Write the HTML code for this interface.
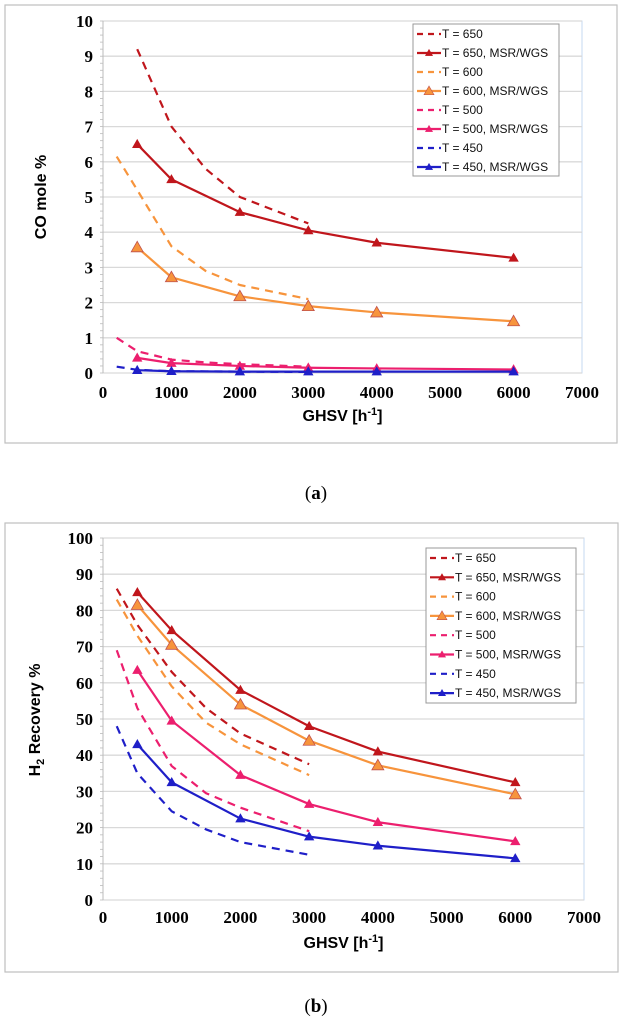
<!DOCTYPE html>
<html><head><meta charset="utf-8"><style>
html,body{margin:0;padding:0;background:#fff;}
svg{display:block;}
</style></head><body>
<svg id="fig" width="624" height="1024" viewBox="0 0 624 1024" xmlns="http://www.w3.org/2000/svg">
<rect x="5" y="5" width="612" height="438" fill="#fff" stroke="#bfbfbf" stroke-width="1.2"/>
<rect x="5" y="523" width="613" height="449" fill="#fff" stroke="#bfbfbf" stroke-width="1.2"/>
<text x="316" y="499" text-anchor="middle" font-family="Liberation Serif, serif" font-size="19">(<tspan font-weight="bold">a</tspan>)</text>
<text x="316" y="1012" text-anchor="middle" font-family="Liberation Serif, serif" font-size="19">(<tspan font-weight="bold">b</tspan>)</text>
</svg>
<script>
// ---- Chart A data (CO mole %) ----
const xTicks = [0,1000,2000,3000,4000,5000,6000,7000];
const aYTicks = [0,1,2,3,4,5,6,7,8,9,10];
const seriesNames = ["T = 650","T = 650,  MSR/WGS","T = 600","T = 600, MSR/WGS","T = 500","T = 500, MSR/WGS","T = 450","T = 450, MSR/WGS"];
const dashX = [200,500,1000,1500,2000,3000];
const solidX = [500,1000,2000,3000,4000,6000];
const aT650dash = [null,9.2,7.0,5.8,5.0,4.25];
const aT650 = [6.5,5.5,4.57,4.05,3.7,3.27];
const aT600dash = [6.15,5.2,3.6,2.9,2.5,2.1];
const aT600 = [3.57,2.72,2.18,1.9,1.72,1.47];
const aT500dash = [1.0,0.62,0.38,0.3,0.25,0.18];
const aT500 = [0.43,0.28,0.2,0.15,0.13,0.1];
const aT450dash = [0.18,0.09,0.05,0.045,0.04,0.03];
const aT450 = [0.08,0.05,0.04,0.04,0.04,0.04];
// ---- Chart B data (H2 recovery %) ----
const bYTicks = [0,10,20,30,40,50,60,70,80,90,100];
const bT650dash = [86,76,63,53,46,37.5];
const bT650 = [85,74.5,58,48,41,32.5];
const bT600dash = [83,73,59,49,43,34.5];
const bT600 = [81.5,70.5,54,44,37.2,29.2];
const bT500dash = [69,53,37,29.5,25.5,19];
const bT500 = [63.5,49.5,34.5,26.5,21.5,16.2];
const bT450dash = [48,35,24.5,19.5,16,12.5];
const bT450 = [43,32.5,22.5,17.5,15,11.5];

const colors = ["#c0161c","#f7943c","#ec1f6e","#1f1fc8"];
const NS = "http://www.w3.org/2000/svg";
const svg = document.getElementById('fig');
function mk(tag, attrs, parent){const e=document.createElementNS(NS,tag);for(const k in attrs)e.setAttribute(k,attrs[k]);(parent||svg).appendChild(e);return e;}

function drawChart(cfg){
  const g = mk('g',{});
  
  
  const L=cfg.left,R=cfg.right,T=cfg.top,B=cfg.bottom;
  const ymax=cfg.yTicks[cfg.yTicks.length-1];
  const sx=v=>L+(v/7000)*(R-L);
  const sy=v=>B-(v/ymax)*(B-T);
  const plot = mk('rect',{x:L,y:T,width:R-L,height:B-T,fill:'#fff',stroke:'#c6d9f1','stroke-width':1},g);
  
  
  cfg.yTicks.forEach(t=>{
    const gl=mk('line',{x1:L,x2:R,y1:sy(t),y2:sy(t),stroke:'#d9d9d9','stroke-width':1.3},g);
    
    
    const tl=mk('text',{x:L-10,y:sy(t)+6,'text-anchor':'end','font-family':'Liberation Serif, serif','font-weight':'bold','font-size':17},g);
    tl.textContent=t;
    
    
  });
  for(let i=0;i<=cfg.yTicks.length*5-5;i++){
    const v=i*ymax/((cfg.yTicks.length-1)*5);
    const mt=mk('line',{x1:L-3,x2:L,y1:sy(v),y2:sy(v),stroke:'#bbb','stroke-width':0.8},g);
    
    
  }
  mk('line',{x1:L,x2:L,y1:T,y2:B,stroke:'#bbb','stroke-width':1},g);
  xTicks.forEach(t=>{
    const tl=mk('text',{x:sx(t),y:cfg.xLabelY,'text-anchor':'middle','font-family':'Liberation Serif, serif','font-weight':'bold','font-size':17},g);
    tl.textContent=t;
    
    
  });
  const xt=mk('text',{x:(L+R)/2,y:cfg.xTitleY,'text-anchor':'middle','font-family':'Liberation Sans, sans-serif','font-weight':'bold','font-size':16},g);
  xt.innerHTML='GHSV [h<tspan font-size="11" dy="-6">-1</tspan><tspan dy="6">]</tspan>';
  
  
  const yt=mk('text',{x:0,y:0,transform:`translate(${cfg.yTitleX},${cfg.yTitleY}) rotate(-90)`,'text-anchor':'middle','font-family':'Liberation Sans, sans-serif','font-weight':'bold','font-size':16},g);
  yt.innerHTML=cfg.yTitle;
  
  
  cfg.series.forEach((s,i)=>{
    const col=colors[Math.floor(i/2)];
    const xs=s.dash?dashX:solidX;
    const pts=[];
    s.vals.forEach((v,j)=>{if(v!==null)pts.push([sx(xs[j]),sy(v)]);});
    const pl=mk('polyline',{points:pts.map(p=>p.join(',')).join(' '),fill:'none',stroke:col,'stroke-width':2.2,'stroke-dasharray':s.dash?'8,6':'none','stroke-linejoin':'round'},g);
    
    
    if(!s.dash){
      pts.forEach(p=>{
        const sz=s.big?6:4.5;
        const m=mk('polygon',{points:`${p[0]},${p[1]-sz} ${p[0]-sz},${p[1]+sz*0.75} ${p[0]+sz},${p[1]+sz*0.75}`,fill:col,stroke:s.big?'#c0504d':col,'stroke-width':0.8},g);
        
        
      });
    }
  });
  const lg=cfg.legend;
  const lr=mk('rect',{x:lg.x,y:lg.y,width:lg.w,height:lg.h,fill:'#fff',stroke:'#999','stroke-width':1},g);
  
  
  seriesNames.forEach((n,i)=>{
    const col=colors[Math.floor(i/2)];
    const yy=lg.y+10+i*lg.step;
    const dash=i%2===0;
    const ln=mk('line',{x1:lg.x+4,x2:lg.x+28,y1:yy,y2:yy,stroke:col,'stroke-width':2.2,'stroke-dasharray':dash?'6,5':'none'},g);
    
    
    if(!dash){
      const big=i===3, sz=big?5:3.5, cx=lg.x+16;
      mk('polygon',{points:`${cx},${yy-sz} ${cx-sz},${yy+sz*0.75} ${cx+sz},${yy+sz*0.75}`,fill:col,stroke:big?'#c0504d':col,'stroke-width':0.6},g);
    }
    const t=mk('text',{x:lg.x+29,y:yy+4,'font-family':'Liberation Sans, sans-serif','font-size':12,fill:'#111'},g);
    t.textContent=n;
    
    
  });
}

drawChart({name:'chart-a-co-mole',left:103,right:582,top:21,bottom:373,yTicks:aYTicks,
  xLabelY:398,xTitleY:421,yTitleX:46,yTitleY:197,yTitle:'CO mole %',
  series:[{vals:aT650dash,dash:true},{vals:aT650},{vals:aT600dash,dash:true},{vals:aT600,big:true},
          {vals:aT500dash,dash:true},{vals:aT500},{vals:aT450dash,dash:true},{vals:aT450}],
  legend:{x:413,y:24,w:146,h:152,step:19}});
drawChart({name:'chart-b-h2-recovery',left:103,right:584,top:538,bottom:900,yTicks:bYTicks,
  xLabelY:923,xTitleY:948,yTitleX:40,yTitleY:720,yTitle:'H<tspan font-size="11" dy="4">2</tspan><tspan dy="-4"> Recovery  %</tspan>',
  series:[{vals:bT650dash,dash:true},{vals:bT650},{vals:bT600dash,dash:true},{vals:bT600,big:true},
          {vals:bT500dash,dash:true},{vals:bT500},{vals:bT450dash,dash:true},{vals:bT450}],
  legend:{x:426,y:548,w:150,h:155,step:19.3}});
</script>
</body></html>
